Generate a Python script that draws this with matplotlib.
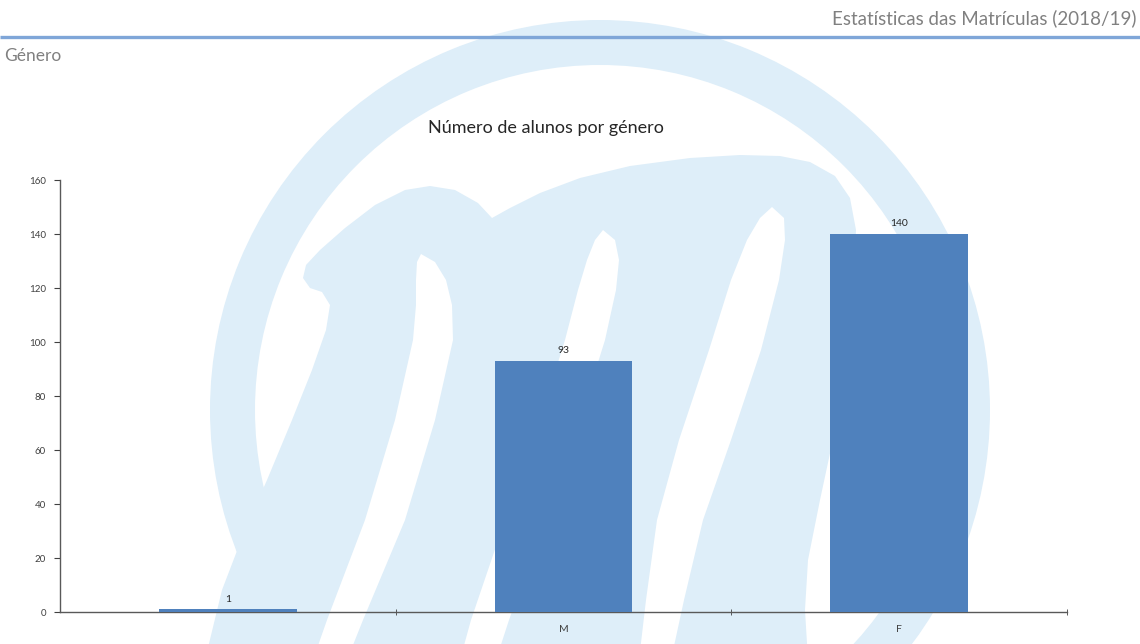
import matplotlib
matplotlib.use("Agg")
import matplotlib.pyplot as plt
from matplotlib.patches import Polygon, Wedge

# chart data
generos = ["", "M", "F"]
alunos = [1, 93, 140]
y_ticks = [0, 20, 40, 60, 80, 100, 120, 140, 160]

titulo = "Número de alunos por género"
cabecalho = "Estatísticas das Matrículas (2018/19)"
seccao = "Género"

W, H = 1140, 644
bar_color = "#4f81bd"
wm_color = "#deeef9"

plt.rcParams['font.family'] = ['Lato', 'DejaVu Sans']

fig = plt.figure(figsize=(W / 100, H / 100), dpi=100)
fig.patch.set_facecolor("white")

# background layer in pixel coordinates (watermark logo + header)
bg = fig.add_axes([0, 0, 1, 1], zorder=-1)
bg.set_xlim(0, W)
bg.set_ylim(H, 0)
bg.axis("off")


def leaf(center, half):
    # white gap shape built from a centre line and half widths
    left = [(x - h, y) for (x, y), h in zip(center, half)]
    right = [(x + h, y) for (x, y), h in zip(center, half)]
    return left + right[::-1]


bg.add_patch(Wedge((600, 410), 390, 0, 360, width=45, color=wm_color, lw=0))

m_body = [(205, 660), (222, 590), (245, 530), (267, 480), (292, 420), (312, 370),
          (326, 330), (330, 305), (322, 292), (310, 288), (303, 278), (306, 265),
          (320, 250), (345, 228), (375, 205), (405, 190), (430, 186), (455, 190),
          (478, 203), (492, 218), (510, 208), (540, 193), (580, 178), (630, 166),
          (690, 158), (740, 155), (780, 156), (810, 162), (835, 176), (850, 198),
          (856, 230), (853, 290), (846, 360), (835, 430), (820, 500), (808, 560),
          (805, 610), (808, 660)]
bg.add_patch(Polygon(m_body, closed=True, color=wm_color, lw=0))

leaves = [
    ([(421, 254), (426, 262), (431, 280), (434, 305), (433, 340), (415, 420), (385, 520), (345, 620), (330, 660)],
     [0, 9, 15, 18, 20, 20, 20, 18, 17]),
    ([(603, 230), (605, 240), (603, 260), (597, 290), (585, 340), (560, 420), (525, 520), (490, 620), (478, 660)],
     [0, 10, 16, 19, 20, 20, 20, 19, 18]),
    ([(772, 207), (772, 218), (766, 240), (755, 280), (735, 350), (705, 440), (680, 520), (665, 600), (655, 660)],
     [0, 12, 19, 24, 26, 26, 23, 19, 16]),
]
for c, hw in leaves:
    bg.add_patch(Polygon(leaf(c, hw), closed=True, color="white", lw=0))

# header
bg.plot([0, W], [37, 37], color="#7fa6d8", lw=2.4, solid_capstyle="butt")
bg.text(1136, 18, cabecalho, ha="right", va="center", fontsize=13.5, color="#808080")
bg.text(4, 56, seccao, ha="left", va="center", fontsize=12.5, color="#808080")
bg.text(546, 128, titulo, ha="center", va="center", fontsize=13, color="#262626")

# main chart
ax = fig.add_axes([60 / W, (H - 612) / H, (1067 - 60) / W, (612 - 180) / H])
ax.patch.set_alpha(0)

x = range(len(generos))
bars = ax.bar(x, alunos, width=0.41, color=bar_color, zorder=3)
ax.bar_label(bars, padding=4, fontsize=7.5, color="#262626")

ax.set_xlim(-0.5, len(generos) - 0.5)
ax.set_ylim(0, 160)
ax.set_yticks(y_ticks)
ax.set_yticklabels([str(v) for v in y_ticks], fontsize=7, color="#404040")
ax.set_xticks(list(x))
ax.set_xticklabels(generos, fontsize=7.5, color="#404040")
ax.set_xticks([i + 0.5 for i in x], minor=True)
ax.tick_params(axis="x", which="major", length=0, pad=9)
ax.tick_params(axis="x", which="minor", length=4, direction="inout", color="#404040")
ax.tick_params(axis="y", length=4, color="#404040", pad=6)

for s in ["top", "right"]:
    ax.spines[s].set_visible(False)
for s in ["left", "bottom"]:
    ax.spines[s].set_color("#595959")
    ax.spines[s].set_linewidth(1.0)

fig.savefig("out.png", dpi=100)
